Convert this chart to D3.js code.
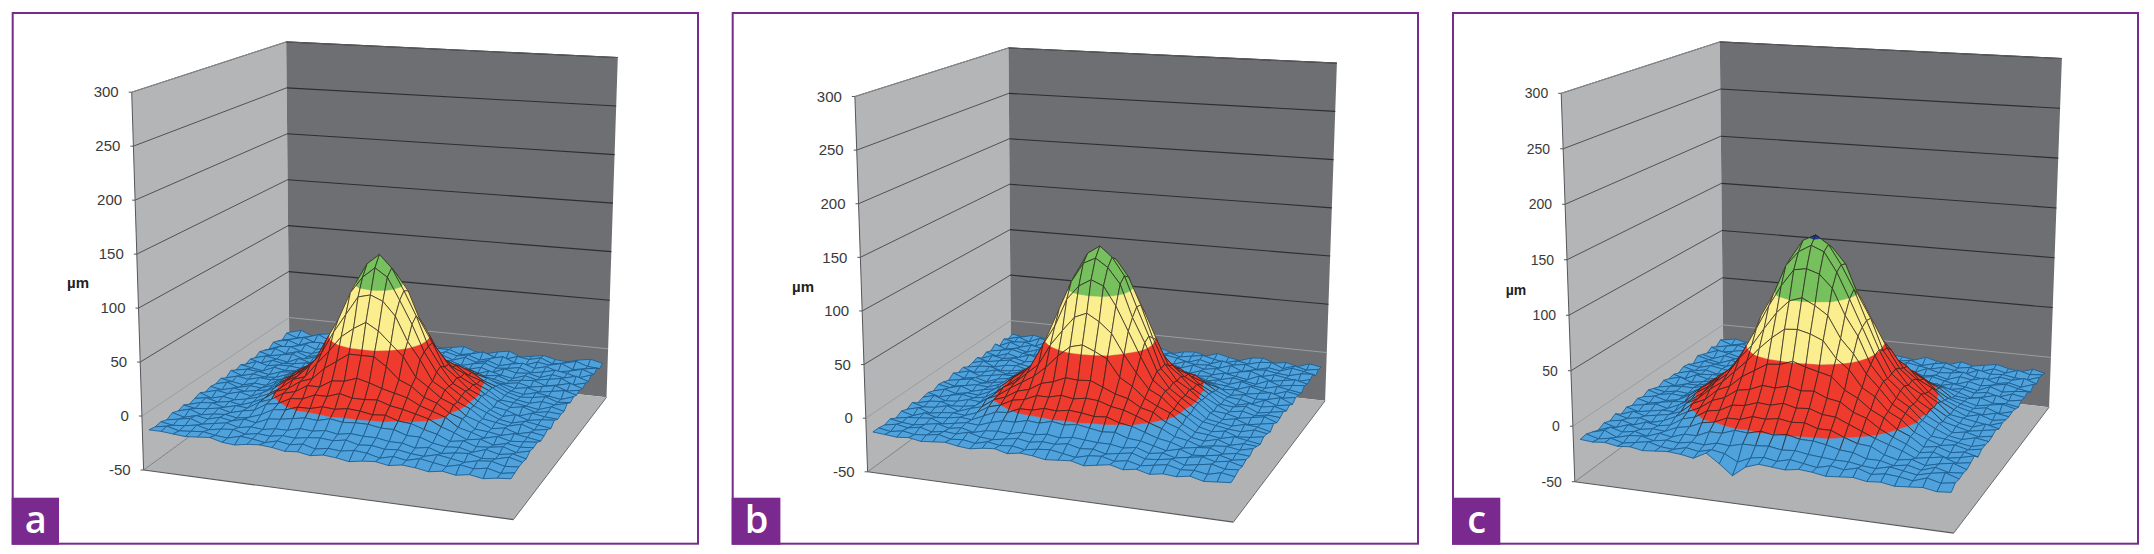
<!DOCTYPE html>
<html><head><meta charset="utf-8">
<script src="https://cdn.jsdelivr.net/npm/d3@7"></script>
<style>html,body{margin:0;padding:0;background:#fff;overflow:hidden}svg{display:block}text{font-family:"Liberation Sans",Arial,sans-serif}</style>
</head><body><script>
const zTicks=[-50,0,50,100,150,200,250,300];
const bandEdges=[-50,0,50,100,150,200];
const bandColors=["#4fa2dc","#ee3b2e","#fbee8e","#76c05d","#1e3c96"];
const axisTitle="µm";
const surfaceA=[
[-14,-11,-16,-13,-11,-15,-16,-12,-14,-16,-11,-14,-15,-12,-15,-13,-11,-15,-16,-13,-11,-16,-14,-12,-15,-16,-13,-11,-14],
[-12,-16,-14,-10,-15,-16,-12,-15,-11,-14,-16,-12,-14,-16,-12,-12,-16,-14,-11,-15,-16,-12,-14,-11,-16,-14,-11,-15,-16],
[-16,-14,-11,-15,-16,-12,-14,-16,-12,-10,-15,-14,-11,-13,-15,-11,-14,-12,-16,-13,-10,-15,-16,-12,-14,-11,-16,-14,-12],
[-14,-12,-16,-12,-11,-15,-16,-12,-13,-15,-11,-13,-16,-12,-14,-11,-15,-11,-15,-12,-16,-13,-11,-15,-12,-16,-14,-11,-15],
[-12,-16,-14,-11,-15,-12,-14,-11,-16,-12,-14,-11,-15,-13,-11,-14,-12,-16,-13,-11,-15,-14,-12,-16,-14,-11,-13,-16,-12],
[-16,-12,-11,-15,-16,-12,-14,-15,-11,-14,-16,-12,-14,-11,-15,-12,-14,-11,-15,-12,-16,-11,-14,-13,-16,-12,-14,-11,-15],
[-14,-11,-15,-12,-16,-13,-11,-15,-12,-14,-11,-13,-12,-10,-13,-11,-12,-14,-12,-15,-11,-14,-16,-12,-15,-13,-11,-16,-13],
[-12,-15,-13,-11,-15,-12,-14,-11,-14,-12,-11,-10,-8,-10,-8,-9,-7,-10,-11,-13,-12,-11,-15,-13,-12,-16,-14,-11,-15],
[-15,-12,-14,-16,-11,-14,-12,-12,-9,-8,-4,-6,-2,-1,-3,-1,-3,-2,-6,-4,-9,-11,-14,-12,-15,-13,-11,-15,-13],
[-13,-16,-12,-14,-13,-11,-12,-8,-5,-2,2,2,5,6,4,7,3,5,0,0,-3,-9,-11,-14,-12,-15,-13,-11,-14],
[-15,-11,-14,-12,-12,-13,-9,-4,1,3,8,9,13,12,14,11,14,9,8,3,0,-3,-8,-13,-15,-12,-14,-16,-12],
[-12,-14,-16,-11,-13,-12,-7,0,3,10,12,18,20,25,24,26,20,18,12,10,5,-2,-6,-11,-14,-13,-11,-15,-14],
[-14,-12,-13,-15,-11,-10,-4,1,8,12,21,26,39,43,47,43,38,28,19,14,6,2,-4,-10,-13,-15,-12,-14,-11],
[-11,-15,-12,-14,-13,-9,-5,4,9,18,26,44,55,68,71,68,58,42,28,16,11,2,-3,-11,-12,-14,-16,-12,-15],
[-15,-12,-14,-11,-12,-10,-2,3,13,20,39,55,78,91,98,93,75,57,37,22,11,5,-3,-8,-13,-11,-15,-13,-14],
[-12,-14,-16,-13,-14,-8,-3,6,12,25,43,68,91,111,117,109,93,65,45,23,14,4,-1,-10,-12,-16,-12,-14,-15],
[-14,-11,-15,-12,-13,-9,-1,4,14,24,47,70,98,119,129,117,96,73,45,27,12,6,-2,-9,-14,-11,-15,-13,-12],
[-13,-15,-12,-14,-12,-10,-2,5,13,23,45,66,93,109,119,111,90,68,43,25,13,5,-3,-8,-13,-15,-12,-14,-16],
[-15,-12,-14,-11,-14,-9,-3,5,11,22,36,57,75,93,96,91,78,55,39,20,13,3,-2,-10,-12,-14,-11,-15,-13],
[-12,-16,-13,-15,-13,-10,-5,2,11,15,29,42,57,66,73,66,55,44,26,18,9,4,-5,-9,-14,-12,-16,-13,-15],
[-14,-12,-15,-13,-15,-11,-6,2,6,14,18,29,37,45,45,45,37,26,21,12,8,0,-4,-12,-13,-15,-12,-14,-16],
[-16,-13,-12,-15,-12,-13,-6,-2,5,8,15,15,22,23,27,24,20,17,14,8,4,0,-8,-11,-15,-12,-15,-14,-13],
[-13,-15,-14,-12,-15,-12,-10,-3,-1,5,6,11,11,15,12,12,13,9,7,4,1,-5,-9,-14,-12,-16,-13,-15,-14],
[-15,-12,-16,-14,-13,-15,-13,-9,-3,-2,2,2,5,4,6,5,3,4,0,-1,-5,-8,-13,-11,-15,-14,-12,-16,-13],
[-13,-16,-13,-15,-12,-14,-11,-13,-8,-7,-5,-3,-4,-1,-3,-2,-2,-4,-4,-8,-8,-12,-14,-13,-16,-12,-15,-13,-16],
[-16,-14,-12,-16,-14,-12,-15,-13,-14,-12,-12,-9,-10,-8,-10,-8,-9,-9,-11,-11,-14,-12,-16,-14,-13,-16,-15,-12,-15],
[-14,-16,-15,-13,-16,-14,-13,-16,-14,-15,-13,-14,-12,-11,-12,-10,-13,-12,-14,-13,-15,-16,-13,-15,-17,-14,-13,-16,-15],
[-15,-13,-16,-15,-14,-16,-17,-14,-15,-17,-14,-16,-14,-17,-15,-16,-14,-15,-18,-15,-17,-14,-16,-18,-15,-17,-15,-18,-16],
[-14,-14,-15,-16,-15,-14,-17,-18,-16,-15,-16,-18,-17,-19,-17,-18,-20,-18,-17,-19,-17,-18,-20,-18,-20,-18,-20,-18,-17]
];
const surfaceB=[
[-13,-15,-12,-14,-16,-12,-11,-15,-13,-11,-16,-14,-11,-15,-12,-16,-13,-12,-15,-11,-14,-16,-12,-11,-15,-13,-16,-12,-14],
[-15,-12,-16,-11,-13,-15,-14,-11,-16,-13,-12,-15,-13,-11,-16,-12,-15,-13,-11,-14,-16,-13,-15,-12,-11,-16,-12,-15,-13],
[-12,-14,-13,-16,-11,-14,-16,-12,-14,-15,-11,-13,-16,-12,-14,-11,-13,-16,-12,-15,-11,-14,-12,-16,-13,-15,-11,-13,-16],
[-16,-11,-15,-12,-14,-12,-13,-15,-11,-13,-16,-12,-14,-15,-11,-14,-16,-12,-14,-13,-15,-11,-16,-13,-12,-14,-15,-12,-11],
[-11,-15,-13,-16,-12,-15,-11,-14,-15,-12,-14,-15,-11,-13,-16,-12,-12,-15,-11,-14,-12,-16,-13,-11,-15,-12,-14,-16,-13],
[-15,-13,-11,-14,-15,-11,-16,-12,-13,-16,-11,-14,-13,-15,-12,-14,-11,-13,-16,-12,-15,-12,-14,-16,-11,-15,-13,-11,-14],
[-13,-16,-12,-15,-11,-14,-13,-15,-11,-14,-13,-11,-14,-12,-11,-13,-12,-15,-11,-14,-13,-15,-12,-14,-16,-11,-15,-13,-12],
[-16,-12,-14,-12,-15,-13,-11,-14,-12,-13,-11,-12,-9,-11,-9,-10,-8,-11,-12,-12,-14,-12,-15,-11,-14,-15,-12,-14,-16],
[-12,-15,-13,-11,-14,-16,-13,-11,-9,-8,-5,-4,-2,-3,-1,-3,-2,-4,-5,-8,-8,-12,-13,-15,-11,-14,-16,-12,-14],
[-14,-11,-16,-13,-12,-15,-12,-7,-5,-1,2,5,4,7,5,7,4,3,3,-2,-5,-8,-13,-12,-15,-13,-11,-15,-13],
[-15,-13,-12,-15,-14,-12,-9,-3,0,6,8,13,13,16,14,15,15,11,10,4,2,-5,-8,-14,-12,-15,-14,-11,-16],
[-12,-16,-14,-11,-14,-11,-8,-2,5,10,16,19,26,27,30,27,26,22,14,11,4,0,-7,-12,-13,-16,-11,-15,-13],
[-14,-11,-15,-13,-11,-11,-4,3,8,14,24,31,45,53,58,55,48,35,24,14,10,1,-5,-11,-15,-12,-14,-12,-15],
[-11,-15,-13,-16,-12,-10,-5,3,13,19,33,49,68,78,87,82,72,55,33,21,11,5,-3,-12,-13,-11,-16,-14,-12],
[-15,-13,-11,-14,-12,-10,-2,6,13,26,45,68,91,109,112,110,97,74,48,24,15,4,-3,-9,-14,-12,-15,-13,-14],
[-13,-16,-14,-12,-13,-9,-1,5,16,27,55,78,109,124,131,126,110,84,53,29,14,7,-2,-11,-12,-15,-13,-11,-15],
[-12,-14,-11,-15,-12,-10,-3,6,14,30,56,87,112,133,141,131,114,85,58,28,16,5,-1,-9,-14,-12,-16,-14,-12],
[-15,-12,-15,-13,-14,-9,-2,7,15,27,53,80,107,126,132,124,109,78,55,29,14,6,-2,-11,-13,-15,-12,-13,-16],
[-13,-16,-13,-11,-13,-11,-4,4,13,26,47,66,93,107,114,109,91,68,45,24,15,5,-4,-10,-12,-14,-15,-12,-14],
[-14,-11,-15,-14,-11,-12,-5,5,11,21,31,51,66,80,85,78,68,49,33,19,13,3,-3,-11,-14,-12,-16,-15,-13],
[-16,-13,-12,-15,-14,-12,-4,1,9,16,23,33,45,55,58,53,47,31,24,14,8,3,-6,-12,-13,-15,-12,-14,-16],
[-12,-15,-14,-11,-15,-11,-8,0,4,11,14,21,24,29,28,29,24,19,16,9,6,-2,-6,-13,-15,-12,-16,-13,-14],
[-15,-12,-16,-14,-13,-14,-10,-3,0,6,8,13,13,16,14,16,15,11,9,5,0,-4,-10,-12,-16,-14,-13,-15,-12],
[-13,-16,-12,-15,-14,-12,-13,-8,-3,-2,3,3,6,5,7,6,4,5,1,-1,-5,-9,-11,-15,-13,-12,-16,-14,-15],
[-16,-14,-13,-12,-16,-14,-12,-13,-9,-6,-6,-3,-4,-1,-3,-1,-3,-5,-4,-8,-9,-12,-15,-12,-16,-15,-13,-16,-14],
[-13,-15,-16,-14,-12,-15,-13,-16,-13,-12,-13,-10,-11,-9,-11,-9,-10,-11,-11,-13,-11,-15,-13,-16,-14,-12,-15,-13,-16],
[-15,-13,-15,-13,-16,-14,-15,-12,-15,-16,-14,-12,-14,-12,-13,-11,-14,-13,-16,-14,-12,-16,-15,-13,-17,-15,-13,-16,-15],
[-14,-16,-14,-16,-15,-13,-16,-15,-17,-14,-16,-15,-17,-15,-14,-16,-18,-15,-14,-17,-15,-18,-16,-14,-17,-16,-18,-15,-17],
[-14,-15,-16,-15,-17,-16,-15,-17,-18,-16,-15,-18,-16,-17,-19,-18,-17,-20,-18,-16,-19,-17,-20,-18,-19,-17,-20,-19,-18]
];
const surfaceC=[
[-14,-12,-15,-11,-16,-13,-11,-14,-16,-12,-15,-13,-11,-14,-16,-12,-13,-15,-11,-14,-16,-12,-15,-13,-11,-14,-16,-12,-15],
[-11,-15,-13,-16,-12,-14,-15,-11,-13,-16,-12,-14,-15,-12,-11,-15,-14,-12,-16,-13,-11,-15,-13,-16,-12,-15,-11,-14,-13],
[-15,-13,-11,-14,-15,-11,-13,-16,-12,-14,-11,-15,-13,-16,-14,-12,-15,-11,-13,-15,-12,-14,-16,-11,-14,-13,-15,-16,-12],
[-12,-16,-14,-12,-13,-16,-12,-14,-15,-11,-14,-12,-16,-11,-13,-15,-12,-14,-16,-11,-14,-13,-11,-15,-16,-12,-14,-11,-15],
[-15,-11,-13,-16,-14,-11,-15,-12,-14,-16,-12,-15,-13,-14,-12,-11,-16,-13,-12,-15,-13,-16,-12,-14,-11,-15,-13,-16,-12],
[-13,-16,-12,-14,-11,-15,-13,-16,-11,-14,-13,-12,-14,-12,-13,-11,-14,-12,-15,-13,-11,-14,-16,-12,-15,-13,-11,-14,-16],
[-11,-14,-16,-12,-15,-13,-12,-14,-12,-12,-10,-11,-7,-9,-8,-7,-9,-9,-11,-11,-13,-15,-12,-14,-16,-11,-15,-13,-12],
[-16,-12,-14,-15,-11,-14,-12,-11,-9,-5,-4,-3,-1,1,0,1,-2,-1,-5,-5,-10,-10,-14,-12,-15,-13,-16,-12,-14],
[-13,-15,-12,-14,-16,-13,-10,-5,-4,2,3,7,7,10,8,10,9,5,5,0,-2,-7,-9,-12,-16,-14,-11,-15,-13],
[-12,-15,-13,-16,-13,-11,-6,0,3,9,11,16,16,19,20,18,17,14,13,7,5,-2,-5,-12,-13,-11,-15,-14,-16],
[-15,-12,-14,-13,-13,-8,-4,5,9,17,21,27,28,31,31,29,30,25,23,15,11,3,-2,-10,-12,-15,-13,-11,-14],
[-13,-16,-11,-14,-12,-5,2,7,17,22,32,39,46,47,50,49,44,41,30,24,15,9,0,-7,-11,-14,-12,-16,-13],
[-14,-11,-15,-13,-11,-4,5,12,21,32,43,56,67,76,78,74,69,54,45,30,23,11,5,-5,-10,-13,-15,-12,-14],
[-12,-16,-13,-13,-10,-1,7,14,27,39,56,69,89,97,105,99,87,71,54,41,25,16,5,-3,-9,-14,-11,-15,-13],
[-15,-13,-12,-12,-9,-2,9,16,30,44,69,87,111,123,129,124,109,89,67,46,28,18,7,0,-10,-12,-14,-16,-12],
[-13,-15,-13,-14,-8,1,8,19,29,49,74,99,123,141,147,139,125,97,76,47,31,17,10,-1,-8,-13,-15,-11,-14],
[-11,-14,-12,-13,-9,0,10,18,32,49,79,103,129,147,153,145,127,105,77,51,30,20,8,1,-9,-12,-15,-13,-11],
[-14,-12,-15,-13,-7,1,9,17,31,47,76,97,125,139,146,141,123,99,74,49,29,19,8,-1,-7,-14,-12,-15,-13],
[-12,-15,-13,-11,-10,0,7,18,28,46,67,89,109,125,127,123,111,87,69,44,30,16,9,-2,-8,-13,-15,-12,-14],
[-15,-13,-11,-14,-9,-3,5,16,25,41,54,71,87,99,103,97,89,69,56,39,27,14,7,-1,-11,-12,-14,-16,-13],
[-13,-16,-14,-12,-12,-3,3,13,21,32,43,56,67,76,77,74,69,54,45,30,23,11,5,-5,-10,-14,-12,-15,-13],
[-16,-12,-15,-13,-11,-7,2,7,17,22,32,39,46,47,51,47,44,41,30,24,15,9,0,-5,-13,-11,-15,-13,-16],
[-12,-15,-13,-16,-13,-8,-2,3,11,15,23,25,30,29,32,29,30,25,23,15,11,3,-3,-8,-14,-12,-16,-14,-11],
[-15,-13,-16,-12,-14,-12,-5,-2,5,7,13,14,18,17,20,17,18,14,13,8,3,-2,-6,-10,-15,-13,-11,-15,-13],
[-13,-16,-12,-15,-13,-14,-9,-7,-2,0,5,5,9,8,10,8,9,5,5,0,-4,-5,-11,-14,-12,-16,-13,-11,-15],
[-16,-12,-15,-13,-16,-12,-14,-10,-10,-5,-5,-1,-2,1,-1,1,-2,-2,-4,-7,-8,-12,-12,-15,-13,-16,-12,-15,-14],
[-14,-11,-16,-13,-12,-15,-13,-14,-12,-13,-10,-11,-8,-8,-7,-9,-8,-10,-11,-12,-12,-14,-15,-12,-14,-16,-13,-11,-15],
[-12,-15,-13,-16,-14,-12,-15,-16,-13,-15,-12,-14,-20,-15,-13,-15,-12,-14,-16,-13,-15,-12,-16,-14,-15,-17,-13,-16,-14],
[-13,-14,-13,-15,-14,-16,-15,-14,-15,-17,-11,-19,-28,-19,-15,-16,-17,-15,-16,-18,-17,-16,-18,-17,-19,-18,-17,-19,-18]
];

const panels=[
 {letter:"a",surface:surfaceA,frame:[12.7,13,698,543.7],box:46.3,font:15,title:[78,283],
  bl:[[143.6,470],[289.5,363.5],[606.5,397.3],[513.4,519.6]],tl:[[131.7,92.2],[286.2,41.9],[617.8,57.5],[521,115]]},
 {letter:"b",surface:surfaceB,frame:[732.7,13,1418,543.7],box:47.7,font:15,title:[803,287],
  bl:[[867.6,471.8],[1011,366],[1325.1,400.8],[1233.4,522.1]],tl:[[854.9,96.5],[1008.5,47.9],[1336.9,63.1],[1241,120]]},
 {letter:"c",surface:surfaceC,frame:[1453,13,2138,543.7],box:47.3,font:14,title:[1516,290],
  bl:[[1574.8,481.7],[1723.5,372],[2049.1,407.2],[1953.7,533.1]],tl:[[1561.2,93.3],[1719.8,41.9],[2061.9,58.5],[1962,118]]}
];
const svg=d3.select("body").append("svg").attr("width",2154).attr("height",554);
const purple="#7a2a8e";
const zFrac=d3.scaleLinear().domain([-50,300]).range([0,1]);
const lineGen=d3.line();
function homography(q){
  const [p00,p10,p11,p01]=[q[1],q[2],q[3],q[0]];
  const dx1=p10[0]-p11[0],dx2=p01[0]-p11[0],sx=p00[0]-p10[0]+p11[0]-p01[0];
  const dy1=p10[1]-p11[1],dy2=p01[1]-p11[1],sy=p00[1]-p10[1]+p11[1]-p01[1];
  const den=dx1*dy2-dx2*dy1;
  const g=(sx*dy2-dx2*sy)/den,h=(dx1*sy-sx*dy1)/den;
  const a=p10[0]-p00[0]+g*p10[0],b=p01[0]-p00[0]+h*p01[0],c=p00[0];
  const d=p10[1]-p00[1]+g*p10[1],e=p01[1]-p00[1]+h*p01[1],f=p00[1];
  return (u,v)=>{const w=g*u+h*v+1;return [(a*u+b*v+c)/w,(d*u+e*v+f)/w];};
}
function clipBand(poly,lo,hi){
  const clip=(pts,lim,keepAbove)=>{const out=[];
    pts.forEach((p,i)=>{const q=pts[(i+1)%pts.length];
      const ins=keepAbove?p[2]>=lim:p[2]<=lim, inq=keepAbove?q[2]>=lim:q[2]<=lim;
      if(ins)out.push(p);
      if(ins!==inq){const t=(lim-p[2])/(q[2]-p[2]);out.push([p[0]+t*(q[0]-p[0]),p[1]+t*(q[1]-p[1]),lim]);}
    });return out;};
  let r=clip(poly,lo,true); if(r.length)r=clip(r,hi,false); return r;
}
panels.forEach(pn=>{
  const g=svg.append("g");
  const H0=homography(pn.bl),H1=homography(pn.tl);
  const P=(u,v,z)=>{const a=H0(u,v),b=H1(u,v),t=zFrac(z);return [a[0]+(b[0]-a[0])*t,a[1]+(b[1]-a[1])*t];};
  const poly=(pts,fill)=>g.append("path").attr("d",lineGen(pts)+"Z").attr("fill",fill);
  const seg=(a,b,col,w)=>g.append("path").attr("d",lineGen([a,b])).attr("stroke",col).attr("stroke-width",w).attr("fill","none");
  g.append("rect").attr("x",pn.frame[0]).attr("y",pn.frame[1]).attr("width",pn.frame[2]-pn.frame[0]).attr("height",pn.frame[3]-pn.frame[1]).attr("fill","#fff").attr("stroke",purple).attr("stroke-width",2);
  poly([P(0,1,-50),P(0,0,-50),P(0,0,300),P(0,1,300)],"#b4b5b7");
  poly([P(0,0,-50),P(1,0,-50),P(1,0,300),P(0,0,300)],"#6e6f72");
  poly([P(0,1,-50),P(0,0,-50),P(1,0,-50),P(1,1,-50)],"#b1b2b4");
  zTicks.forEach(z=>{
    const col=z===0?"#9c9d9f":"#2e2e30", w=z===0?1:1.1;
    if(z>-50){seg(P(0,1,z),P(0,0,z),z===0?"#9c9d9f":"#45464a",z===0?1:.9);seg(P(0,0,z),P(1,0,z),col,w);}
    const e=P(0,1,z);
    seg([e[0]-3,e[1]],e,"#555",1);
    g.append("text").attr("x",e[0]-13).attr("y",e[1]+pn.font*.35).attr("text-anchor","end").attr("font-size",pn.font).attr("fill","#3a3a3a").text(z);
  });
  seg(P(0,1,-50),P(0,1,300),"#55565a",1);
  seg(P(0,1,300),P(0,0,300),"#8a8b8e",1);
  seg(P(0,0,300),P(1,0,300),"#5a5b5e",1);
  seg(P(0,1,-50),P(0,0,-50),"#808184",1);
  seg(P(0,1,-50),P(1,1,-50),"#58595c",1.1);
  seg(P(1,1,-50),P(1,0,-50),"#6a6b6e",1);
  g.append("text").attr("x",pn.title[0]).attr("y",pn.title[1]+5).attr("text-anchor","middle").attr("font-size",pn.font).attr("font-weight","bold").attr("fill","#222").text(axisTitle);
  const Z=pn.surface,N=Z.length-1,M=d3.min(Z,d=>d.length)-1;
  const cS=d3.scaleLinear().domain([0,M]).range([.012,.988]);
  const rS=d3.scaleLinear().domain([0,N]).range([.015,.985]);
  const S=p=>P(cS(p[0]),rS(p[1]),p[2]);
  const mesh=g.append("g");
  for(let r=0;r<N;r++)for(let c=0;c<M;c++){
    const q=[[c,r,Z[r][c]],[c+1,r,Z[r][c+1]],[c+1,r+1,Z[r+1][c+1]],[c,r+1,Z[r+1][c]]];
    bandColors.forEach((col,i)=>{
      const pts=clipBand(q,bandEdges[i],bandEdges[i+1]);
      if(pts.length>2)mesh.append("path").attr("d",lineGen(pts.map(S))+"Z").attr("fill",col).attr("stroke",col).attr("stroke-width",.4);
    });
    const top=d3.max(q,p=>p[2]);
    mesh.append("path").attr("d",lineGen(q.map(S))+"Z").attr("fill","none").attr("stroke",top<0?"#175384":"#2b2220").attr("stroke-width",.85).attr("stroke-opacity",.9);
  }
  g.append("rect").attr("x",pn.frame[0]-1).attr("y",pn.frame[3]-46).attr("width",pn.box+1).attr("height",47).attr("fill",purple);
  g.append("text").attr("x",pn.frame[0]+pn.box/2).attr("y",pn.frame[3]-11).attr("text-anchor","middle").attr("font-size",38).attr("font-weight",600).style("font-family","'Open Sans'").attr("fill","#fff").text(pn.letter);
});
</script></body></html>
